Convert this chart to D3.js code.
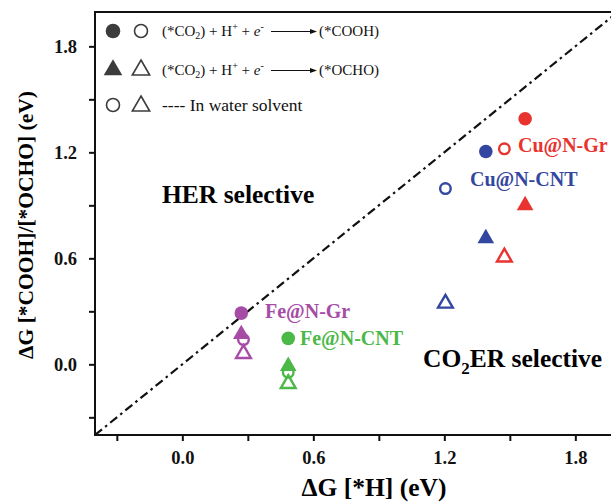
<!DOCTYPE html>
<html><head><meta charset="utf-8">
<script src="https://cdn.jsdelivr.net/npm/d3@7/dist/d3.min.js"></script>
<style>body{margin:0;background:#fff}svg{display:block}text{font-family:"Liberation Serif","Times New Roman",serif}</style>
</head><body><svg id="c" width="611" height="502"></svg>
<script>
const categories = ["Cu@N-Gr", "Cu@N-CNT", "Fe@N-Gr", "Fe@N-CNT"];
const colors = ["#e8332f", "#3447a0", "#a64ca6", "#4cb848"];
const hVacuum = [1.57, 1.39, 0.27, 0.485];
const hWater = [1.475, 1.205, 0.28, 0.485];
const coohVacuum = [1.39, 1.205, 0.29, 0.147];
const coohWater = [1.22, 0.995, 0.14, -0.045];
const ochoVacuum = [0.90, 0.713, 0.17, -0.01];
const ochoWater = [0.606, 0.345, 0.06, -0.11];
const xTicks = [-0.3, 0.0, 0.3, 0.6, 0.9, 1.2, 1.5, 1.8];
const yTicks = [-0.3, 0.0, 0.3, 0.6, 0.9, 1.2, 1.5, 1.8];
const labeled = [0.0, 0.6, 1.2, 1.8];

const svg = d3.select("#c");
const L = 95, R = 619, T = 11, B = 435;
const x = d3.scaleLinear().domain([-0.4, 2.0]).range([L, R]);
const y = d3.scaleLinear().domain([-0.4, 2.0]).range([B, T]);
const fmt = v => labeled.some(l => Math.abs(l - v) < 1e-9) ? d3.format(".1f")(v) : "";

svg.append("defs").append("clipPath").attr("id", "clip")
  .append("rect").attr("x", L).attr("y", T).attr("width", R - L).attr("height", B - T);

// axes
const xa = svg.append("g").attr("transform", `translate(0,${B})`)
  .call(d3.axisBottom(x).tickValues(xTicks).tickFormat(fmt).tickSize(6).tickSizeOuter(0).tickPadding(10));
const ya = svg.append("g").attr("transform", `translate(${L},0)`)
  .call(d3.axisLeft(y).tickValues(yTicks).tickFormat(fmt).tickSize(6).tickSizeOuter(0).tickPadding(12));
[xa, ya].forEach(a => {
  a.select(".domain").remove();
  a.selectAll(".tick line").attr("stroke", "#111").attr("stroke-width", 2);
  a.selectAll(".tick text").attr("fill", "#111").style("font-size", "18.5px").style("font-weight", "bold");
});
ya.selectAll(".tick text").attr("dy", "0.35em");

// frame
svg.append("rect").attr("x", L).attr("y", T + 1).attr("width", R - L).attr("height", B - T - 1)
  .attr("fill", "none").attr("stroke", "#111").attr("stroke-width", 2);

// diagonal
svg.append("line").attr("clip-path", "url(#clip)")
  .attr("x1", x(-0.4)).attr("y1", y(-0.4)).attr("x2", x(2.0)).attr("y2", y(2.0))
  .attr("stroke", "#111").attr("stroke-width", 2.2).attr("stroke-dasharray", "9,4,2.5,4");

// axis titles
svg.append("text").attr("x", 374).attr("y", 496).attr("text-anchor", "middle")
  .style("font-size", "25.5px").style("font-weight", "bold").text("ΔG [*H] (eV)");
svg.append("text").attr("transform", "translate(33,225) rotate(-90)").attr("text-anchor", "middle")
  .style("font-size", "21.5px").style("font-weight", "bold").text("ΔG [*COOH]/[*OCHO] (eV)");

// region labels
svg.append("text").attr("x", 162).attr("y", 203).style("font-size", "25.5px").style("font-weight", "bold").text("HER selective");
const co = svg.append("text").attr("x", 423).attr("y", 367).style("font-size", "25.5px").style("font-weight", "bold");
co.append("tspan").text("CO");
co.append("tspan").attr("dy", 7).style("font-size", "17px").text("2");
co.append("tspan").attr("dy", -7).text("ER selective");

// markers
const tri = (s) => d3.symbol().type(d3.symbolTriangle).size(s)();
const g = svg.append("g");
categories.forEach((c, i) => {
  const col = colors[i];
  g.append("path").attr("d", tri(120)).attr("transform", `translate(${x(hVacuum[i])},${y(ochoVacuum[i])})`).attr("fill", col);
  g.append("path").attr("d", tri(95)).attr("transform", `translate(${x(hWater[i])},${y(ochoWater[i])})`)
    .attr("fill", "none").attr("stroke", col).attr("stroke-width", 2.4);
  g.append("circle").attr("cx", x(hWater[i])).attr("cy", y(coohWater[i])).attr("r", 5.3)
    .attr("fill", "none").attr("stroke", col).attr("stroke-width", 2.4);
  g.append("circle").attr("cx", x(hVacuum[i])).attr("cy", y(coohVacuum[i])).attr("r", 6.8).attr("fill", col);
});

// point labels
const lab = [
  {t: categories[0], x: 518, y: 152},
  {t: categories[1], x: 470, y: 186},
  {t: categories[2], x: 265, y: 318},
  {t: categories[3], x: 300, y: 345}
];
lab.forEach((d, i) => svg.append("text").attr("x", d.x).attr("y", d.y).attr("fill", colors[i])
  .style("font-size", "20px").style("font-weight", "bold").text(d.t));

// legend
const dark = "#3c3c3c";
const lg = svg.append("g");
lg.append("circle").attr("cx", 113).attr("cy", 31).attr("r", 7.3).attr("fill", dark);
lg.append("circle").attr("cx", 141).attr("cy", 31).attr("r", 6.5).attr("fill", "none").attr("stroke", dark).attr("stroke-width", 1.6);
lg.append("path").attr("d", tri(150)).attr("transform", "translate(113,70)").attr("fill", dark);
lg.append("path").attr("d", tri(130)).attr("transform", "translate(141,70)").attr("fill", "none").attr("stroke", dark).attr("stroke-width", 1.6);
lg.append("circle").attr("cx", 113).attr("cy", 105).attr("r", 6.5).attr("fill", "none").attr("stroke", dark).attr("stroke-width", 1.6);
lg.append("path").attr("d", tri(130)).attr("transform", "translate(141,106)").attr("fill", "none").attr("stroke", dark).attr("stroke-width", 1.6);

function eqn(yb, prod) {
  const t = lg.append("text").attr("x", 162).attr("y", yb).style("font-size", "15px").attr("fill", "#111");
  t.append("tspan").text("(*CO");
  t.append("tspan").attr("dy", 3).style("font-size", "10px").text("2");
  t.append("tspan").attr("dy", -3).text(") + H");
  t.append("tspan").attr("dy", -6).style("font-size", "10px").text("+");
  t.append("tspan").attr("dy", 6).text(" + ");
  t.append("tspan").style("font-style", "italic").text("e");
  t.append("tspan").attr("dy", -6).style("font-size", "10px").text("-");
  lg.append("line").attr("x1", 271).attr("x2", 311).attr("y1", yb - 4.5).attr("y2", yb - 4.5).attr("stroke", "#111").attr("stroke-width", 1);
  lg.append("path").attr("d", `M310,${yb - 7}L317,${yb - 4.5}L310,${yb - 2}Z`).attr("fill", "#111");
  lg.append("text").attr("x", 319).attr("y", yb).style("font-size", "15px").attr("fill", "#111").text(prod);
}
eqn(36, "(*COOH)");
eqn(75, "(*OCHO)");
lg.append("text").attr("x", 162).attr("y", 111).style("font-size", "17.5px").attr("fill", "#111").text("---- In water solvent");
</script></body></html>
